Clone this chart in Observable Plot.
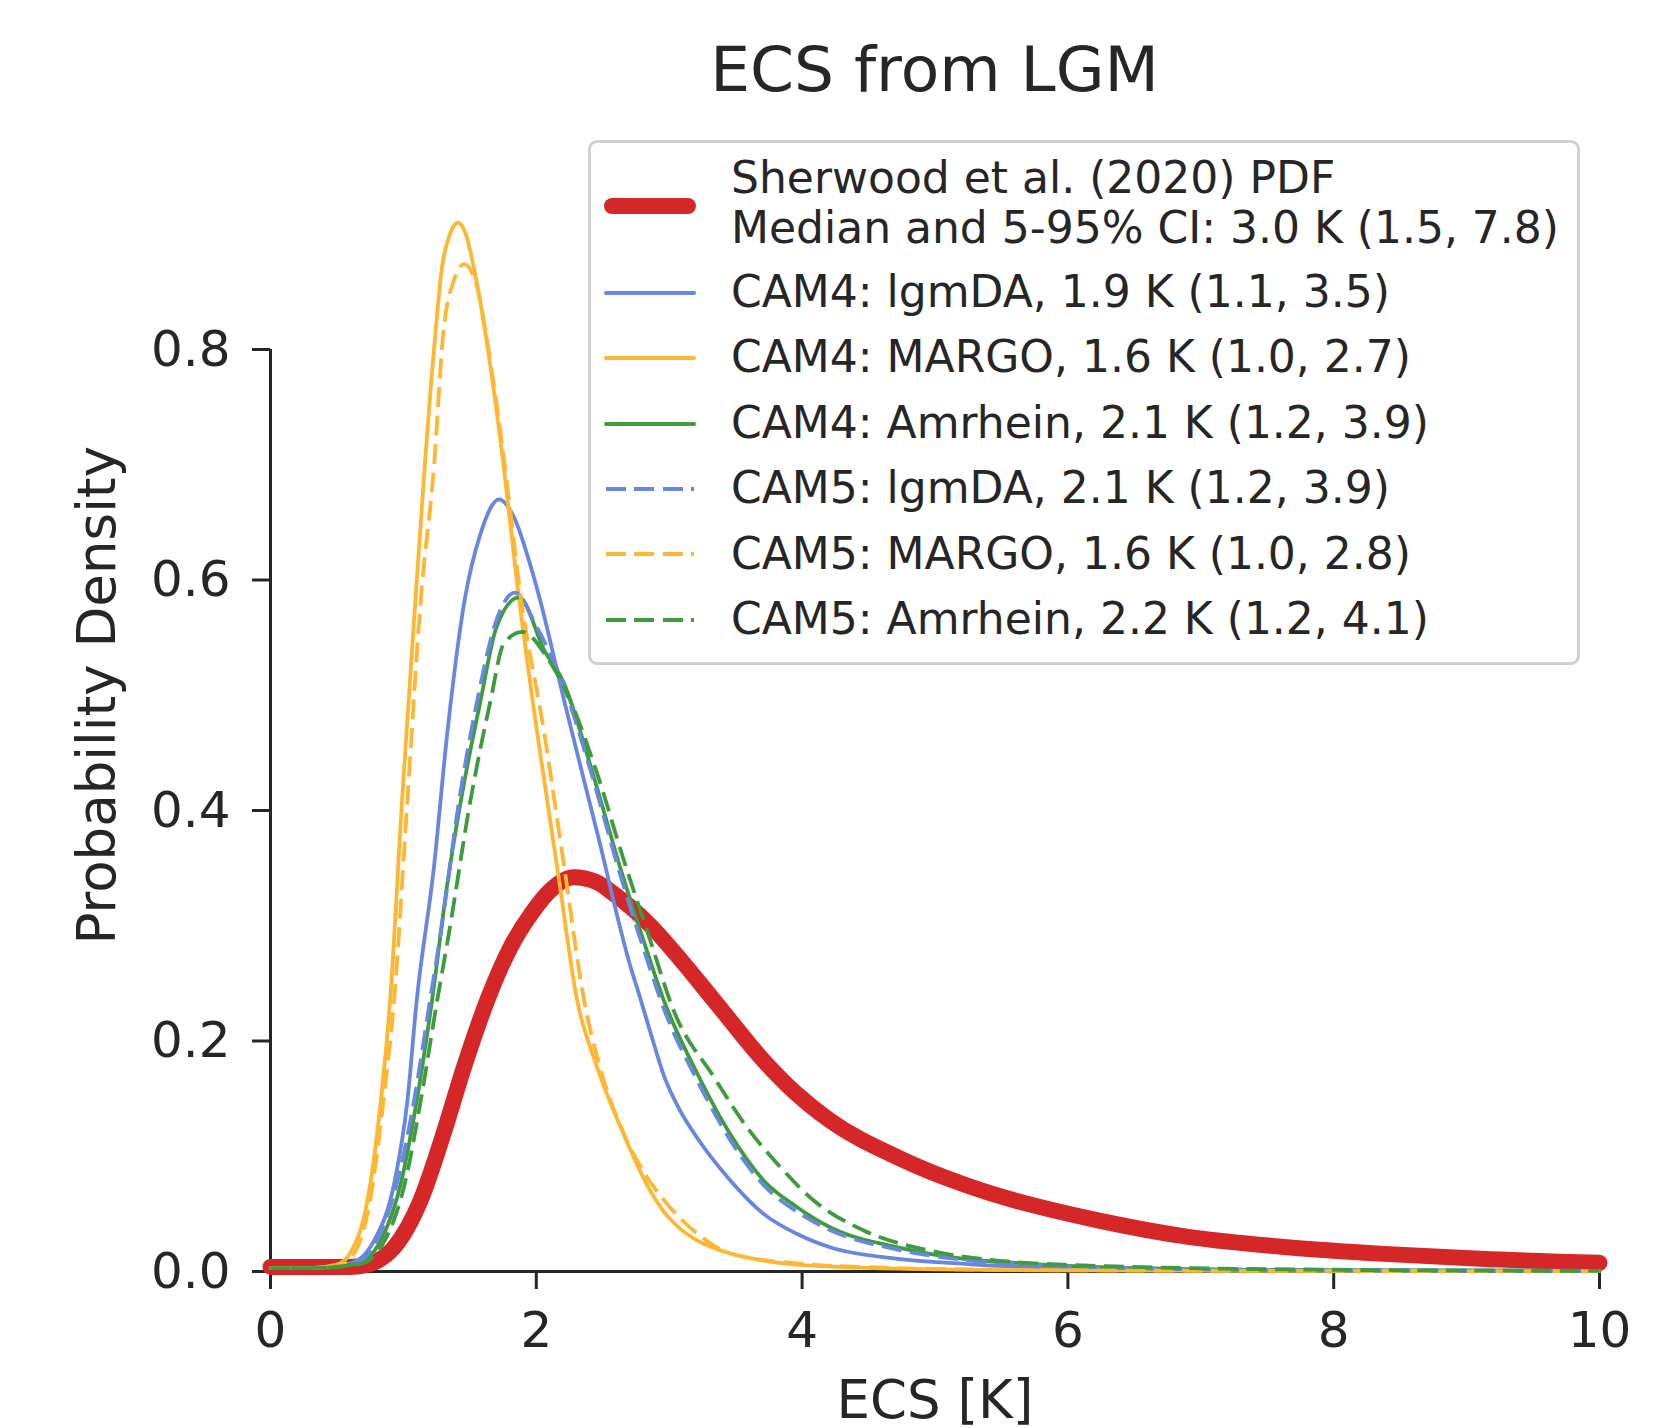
<!DOCTYPE html>
<html>
<head>
<meta charset="utf-8">
<script src="https://cdn.jsdelivr.net/npm/d3@7"></script>
<script src="https://cdn.jsdelivr.net/npm/@observablehq/plot@0.6"></script>
<style>
  html, body { margin: 0; padding: 0; background: white; }
  #wrap { position: relative; width: 1663px; height: 1428px; font-family: "DejaVu Sans", sans-serif; color: #262626; }
  #title { position: absolute; left: 270px; top: 0; width: 1329px; height: 110px; box-sizing: border-box; padding-top: 38px;
           text-align: center; font-size: 63px; line-height: 1; }
  #chart { position: absolute; left: 0; top: 110px; }
  #chart svg { overflow: visible; }
  #legend { position: absolute; left: 588px; top: 140px; width: 992px; height: 525px; box-sizing: border-box;
            border: 3px solid #d0d0d0; border-radius: 9px; background: rgba(255,255,255,0.8); }
  .lg-text { position: absolute; left: 140px; font-size: 44px; line-height: 50.6px; white-space: nowrap; color: #262626; }
  .lg-line { position: absolute; left: 13px; width: 92px; }
</style>
</head>
<body>
<div id="wrap">
  <div id="title">ECS from LGM</div>
  <div id="chart"></div>
  <div id="legend"></div>
</div>
<script>
// ---------- data ----------
const ecsTicks = [0, 2, 4, 6, 8, 10];
const densityTicks = [0, 0.2, 0.4, 0.6, 0.8];

const seriesNames = [
  "Sherwood et al. (2020) PDF\nMedian and 5-95% CI: 3.0 K (1.5, 7.8)",
  "CAM4: lgmDA, 1.9 K (1.1, 3.5)",
  "CAM4: MARGO, 1.6 K (1.0, 2.7)",
  "CAM4: Amrhein, 2.1 K (1.2, 3.9)",
  "CAM5: lgmDA, 2.1 K (1.2, 3.9)",
  "CAM5: MARGO, 1.6 K (1.0, 2.8)",
  "CAM5: Amrhein, 2.2 K (1.2, 4.1)"
];
const seriesColors = ["#d62728", "#6787e0", "#ffb733", "#3f9b3f", "#6787e0", "#ffb733", "#3f9b3f"];
const seriesDashed = [false, false, false, false, true, true, true];

const sherwoodEcs = [0, 0.4, 0.6, 0.7, 0.8, 0.93, 1.13, 1.3, 1.455, 1.63, 1.8, 1.96, 2.1, 2.28, 2.45, 2.58, 2.86, 3.09, 3.36, 3.71, 3.96, 4.21, 4.72, 5.22, 5.47, 6.2, 6.92, 7.65, 8.38, 9.1, 10];
const sherwoodDensity = [0.004, 0.004, 0.004, 0.005, 0.009, 0.021, 0.062, 0.119, 0.177, 0.235, 0.28, 0.31, 0.33, 0.342, 0.338, 0.328, 0.3, 0.27, 0.232, 0.183, 0.154, 0.131, 0.099, 0.0755, 0.066, 0.045, 0.0298, 0.0211, 0.0153, 0.011, 0.0075];

const cam4LgmdaEcs = [0, 0.3, 0.6, 0.78, 0.93, 1.03, 1.1, 1.23, 1.33, 1.46, 1.58, 1.72, 1.83, 1.96, 2.03, 2.21, 2.46, 2.71, 2.78, 2.86, 2.96, 3.08, 3.21, 3.46, 3.71, 3.96, 4.21, 4.72, 5.22, 5.72, 6.5, 8, 10];
const cam4LgmdaDensity = [0.003, 0.003, 0.007, 0.027, 0.076, 0.148, 0.235, 0.351, 0.467, 0.582, 0.64, 0.67, 0.655, 0.611, 0.582, 0.495, 0.38, 0.264, 0.238, 0.207, 0.17, 0.14, 0.116, 0.079, 0.05, 0.0327, 0.021, 0.011, 0.0067, 0.0037, 0.002, 0.001, 0.0005];

const cam4MargoEcs = [0, 0.3, 0.5, 0.6, 0.73, 0.83, 0.9, 0.99, 1.09, 1.16, 1.24, 1.29, 1.35, 1.41, 1.47, 1.53, 1.655, 1.755, 1.856, 2.007, 2.157, 2.308, 2.458, 2.658, 2.834, 2.959, 3.085, 3.21, 3.46, 3.71, 3.96, 4.72, 6, 8, 10];
const cam4MargoDensity = [0.003, 0.003, 0.006, 0.016, 0.062, 0.148, 0.235, 0.409, 0.582, 0.698, 0.813, 0.871, 0.9, 0.91, 0.9, 0.871, 0.785, 0.698, 0.597, 0.467, 0.351, 0.235, 0.177, 0.119, 0.075, 0.052, 0.037, 0.027, 0.0156, 0.0095, 0.006, 0.0025, 0.001, 0.0005, 0.0003];

const cam4AmrheinEcs = [0, 0.3, 0.65, 0.83, 0.98, 1.1, 1.215, 1.33, 1.455, 1.58, 1.7, 1.87, 2.06, 2.21, 2.41, 2.63, 2.83, 2.96, 3.21, 3.46, 3.71, 3.96, 4.21, 4.72, 5.22, 5.72, 6.5, 8, 10];
const cam4AmrheinDensity = [0.003, 0.003, 0.0067, 0.027, 0.076, 0.148, 0.235, 0.336, 0.423, 0.495, 0.559, 0.585, 0.539, 0.51, 0.438, 0.351, 0.279, 0.235, 0.172, 0.119, 0.079, 0.056, 0.0384, 0.021, 0.011, 0.0067, 0.003, 0.001, 0.0005];

const cam5LgmdaEcs = [0, 0.3, 0.62, 0.8, 0.95, 1.08, 1.2, 1.28, 1.42, 1.555, 1.7, 1.84, 2.0, 2.2, 2.4, 2.63, 2.83, 2.96, 3.21, 3.46, 3.71, 3.96, 4.21, 4.72, 5.22, 5.72, 6.5, 8, 10];
const cam5LgmdaDensity = [0.003, 0.003, 0.0067, 0.027, 0.076, 0.148, 0.235, 0.293, 0.409, 0.495, 0.565, 0.589, 0.56, 0.51, 0.438, 0.345, 0.272, 0.228, 0.166, 0.114, 0.075, 0.052, 0.036, 0.019, 0.01, 0.006, 0.003, 0.001, 0.0005];

const cam5MargoEcs = [0, 0.3, 0.5, 0.63, 0.75, 0.85, 0.93, 1.03, 1.13, 1.23, 1.3, 1.38, 1.455, 1.53, 1.68, 1.78, 1.88, 2.06, 2.21, 2.36, 2.48, 2.66, 2.8, 2.96, 3.21, 3.46, 3.96, 4.72, 6, 8, 10];
const cam5MargoDensity = [0.003, 0.003, 0.005, 0.016, 0.062, 0.148, 0.235, 0.409, 0.582, 0.698, 0.814, 0.86, 0.874, 0.863, 0.77, 0.683, 0.588, 0.467, 0.351, 0.235, 0.177, 0.119, 0.088, 0.062, 0.033, 0.0156, 0.007, 0.003, 0.001, 0.0005, 0.0003];

const cam5AmrheinEcs = [0, 0.3, 0.68, 0.86, 1.01, 1.13, 1.254, 1.342, 1.505, 1.655, 1.756, 1.894, 2.08, 2.257, 2.458, 2.658, 2.85, 3.035, 3.335, 3.586, 3.837, 4.088, 4.464, 4.966, 5.468, 6.5, 8, 10];
const cam5AmrheinDensity = [0.003, 0.003, 0.0067, 0.027, 0.076, 0.148, 0.235, 0.293, 0.409, 0.495, 0.545, 0.555, 0.533, 0.495, 0.432, 0.357, 0.29, 0.226, 0.169, 0.125, 0.0905, 0.0616, 0.0356, 0.018, 0.0095, 0.004, 0.0015, 0.0005];

const seriesEcs = [sherwoodEcs, cam4LgmdaEcs, cam4MargoEcs, cam4AmrheinEcs, cam5LgmdaEcs, cam5MargoEcs, cam5AmrheinEcs];
const seriesDensity = [sherwoodDensity, cam4LgmdaDensity, cam4MargoDensity, cam4AmrheinDensity, cam5LgmdaDensity, cam5MargoDensity, cam5AmrheinDensity];

// ---------- chart ----------
const lineMarks = seriesNames.map((name, i) => {
  const rows = seriesEcs[i].map((e, j) => ({ecs: e, density: seriesDensity[i][j], name}));
  return Plot.line(rows, {
    x: "ecs", y: "density",
    stroke: seriesColors[i],
    strokeWidth: i === 0 ? 16 : 3.8,
    strokeDasharray: seriesDashed[i] ? "20,8.5" : null,
    strokeLinecap: seriesDashed[i] ? "butt" : "round",
    strokeLinejoin: "round",
    curve: "monotone-x"
  });
});

const chart = Plot.plot({
  width: 1663,
  height: 1318,
  marginLeft: 270,
  marginRight: 64,
  marginTop: 8.5,
  marginBottom: 157,
  style: {fontFamily: "DejaVu Sans, sans-serif", fontSize: "50px", color: "#262626", background: "white", overflow: "visible"},
  x: {domain: [0, 10]},
  y: {domain: [0, 1]},
  marks: [
    Plot.axisX({ticks: ecsTicks, tickSize: 18, tickPadding: 22, strokeWidth: 3, tickFormat: d3.format("d"),
                label: null}),
    Plot.axisX({ticks: [], tickSize: 0, label: "ECS [K]", labelAnchor: "center", labelArrow: "none",
                labelOffset: 146, fontSize: 53}),
    Plot.axisY({ticks: densityTicks, tickSize: 18, tickPadding: 22, strokeWidth: 3, tickFormat: d3.format(".1f"),
                label: null}),
    Plot.axisY({ticks: [], tickSize: 0, label: "Probability Density", labelAnchor: "center", labelArrow: "none",
                labelOffset: 193, fontSize: 53}),
    Plot.ruleY([0], {x1: ecsTicks[0], x2: ecsTicks[ecsTicks.length - 1], stroke: "#262626", strokeWidth: 3}),
    Plot.ruleX([0], {y1: densityTicks[0], y2: densityTicks[densityTicks.length - 1], stroke: "#262626", strokeWidth: 3}),
    ...lineMarks
  ]
});
document.getElementById("chart").appendChild(chart);

// ---------- legend (HTML overlay) ----------
const legend = document.getElementById("legend");
const textTops = [9.5, 123.8, 189.3, 254.7, 320.1, 385.5, 451];
const lineCenters = [63, 149.7, 214.7, 280.7, 346, 410.7, 476.7];
seriesNames.forEach((name, i) => {
  const t = document.createElement("div");
  t.className = "lg-text";
  t.style.top = textTops[i] + "px";
  t.innerHTML = name.split("\n").join("<br>");
  legend.appendChild(t);
  const l = document.createElement("div");
  l.className = "lg-line";
  const h = i === 0 ? 16 : 4;
  l.style.height = h + "px";
  l.style.top = (lineCenters[i] - h / 2) + "px";
  if (seriesDashed[i]) {
    l.style.left = "15px";
    l.style.width = "88px";
    l.style.background = `repeating-linear-gradient(to right, ${seriesColors[i]} 0 20px, transparent 20px 28.5px)`;
  } else {
    l.style.background = seriesColors[i];
    l.style.borderRadius = (h / 2) + "px";
  }
  legend.appendChild(l);
});
</script>
</body>
</html>
